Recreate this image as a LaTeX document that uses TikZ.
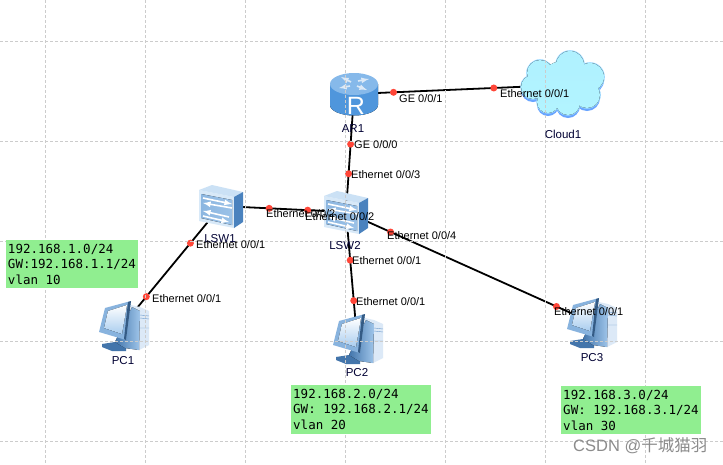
\documentclass[tikz,border=0pt]{standalone}
\usepackage{fontspec}
\setmainfont{Liberation Sans}
\setmonofont{DejaVu Sans Mono}
\newfontfamily\cjkfont{Noto Sans CJK SC}
\definecolor{gridgray}{HTML}{CCCCCC}
\definecolor{dotred}{HTML}{FF4638}
\definecolor{notegreen}{HTML}{90EE90}
\definecolor{iconblue}{HTML}{4A82BE}
\definecolor{iconlight}{HTML}{A9CDEF}
\definecolor{iconpale}{HTML}{DCE9F7}
\definecolor{routerblue}{HTML}{4F96DC}
\definecolor{routertop}{HTML}{86B9EA}
\definecolor{cloudblue}{HTML}{69A5FF}
\definecolor{cloudlight}{HTML}{B2F4FF}
\definecolor{cloudedge}{HTML}{9AD8FF}
\tikzset{
  router/.pic={
    \fill[left color=routerblue, middle color=routertop, right color=routerblue] (-24,-10) -- (-24,11) arc (180:0:24 and 10.5) -- (24,-10) -- cycle;
    \fill[routertop] (0,-10) ellipse (24 and 11);
    \draw[iconpale, line width=1.6pt, -latex] (-3,-12) -- (-13,-17);
    \draw[iconpale, line width=1.6pt, -latex] (-4,-8) -- (-15,-6);
    \draw[iconpale, line width=1.6pt, -latex] (3,-8) -- (13,-4);
    \draw[iconpale, line width=1.6pt, -latex] (4,-13) -- (15,-15);
    \node[text=white, font=\fontsize{25}{25}\selectfont] (-letter) at (2,12) {R};
  },
  switchbox/.pic={
    \fill[iconlight!45!white] (-22,-16) -- (13,-9) -- (13,22) -- (-22,15) -- cycle;
    \fill[left color=iconlight!70!iconblue, right color=iconlight!85!iconblue] (-20,-12) -- (11,-6) -- (11,19) -- (-20,12) -- cycle;
    \fill[iconlight!60!white] (-22,-16) -- (-9,-21) -- (22,-14) -- (13,-9) -- cycle;
    \fill[iconblue] (13,-9) -- (22,-14) -- (22,16) -- (13,22) -- cycle;
    \draw[white, line width=1.6pt, -latex] (-18,-8) -- (11,-2);
    \draw[white, line width=1.6pt, -latex] (11,2) -- (-18,-3);
    \draw[white, line width=1.6pt, -latex] (8,11) -- (-18,5);
    \draw[white, line width=1.6pt, -latex] (-18,10) -- (8,16);
  },
  pcbox/.pic={
    \fill[iconblue!90!black] (-21,19) -- (-8,17) -- (3,23) -- (3,26) -- (-11,26) -- (-21,22) -- cycle;
    \fill[iconpale] (8,-20) -- (17,-18) -- (26,-14) -- (26,20) -- (16,25) -- cycle;
    \fill[left color=iconblue!90!black, right color=iconlight!90!iconblue] (9,-18) -- (17,-14) -- (16,25) -- (2,23) -- (-8,17) -- cycle;
    \fill[iconlight!65!iconblue] (-24,7) -- (-18,-17) -- (8,-24) -- (3,15) -- cycle;
    \fill[top color=white, bottom color=iconlight] (-19,3) -- (-15,-14) -- (4,-20) -- (-1,9) -- cycle;
    \fill[iconblue!70!black] (5,-23) -- (8,-24) -- (3,15) -- (1,14) -- cycle;
    \draw[iconblue!80!white] (17,-10) -- (26,-9) (17,-7) -- (26,-6) (17,3) -- (26,3);
  },
  cloudshape/.pic={
    \fill[cloudblue] (-23,-9) circle (13) (7,-17) circle (14) (27,-5) circle (14)
      (24,13) circle (13) (5,21) circle (12) (-15,20) circle (11) (-30,5) circle (12) (0,3) circle (22);
    \fill[cloudedge] (-23,-12) circle (13.8) (7,-20) circle (14.8) (27,-8) circle (14.8)
      (24,10) circle (13.8) (5,18) circle (12.8) (-15,17) circle (11.8) (-30,2) circle (12.8) (0,0) circle (22);
    \fill[top color=cloudlight!90!cloudedge, bottom color=cloudlight] (-23,-12) circle (13) (7,-20) circle (14) (27,-8) circle (14)
      (24,10) circle (13) (5,18) circle (12) (-15,17) circle (11) (-30,2) circle (12) (0,0) circle (24);
  }
}
\begin{document}
\begin{tikzpicture}[x=1pt, y=-1pt,
  link/.style={black, line width=1.8pt},
  dot/.style={circle, fill=dotred, inner sep=0pt, minimum size=7pt},
  port/.style={anchor=west, inner sep=0pt, font=\fontsize{11}{11}\selectfont},
  devname/.style={inner sep=0pt, text=black!80!blue, font=\fontsize{11.5}{12}\selectfont},
  note/.style={fill=notegreen, anchor=north west, align=left, inner xsep=1.5pt, inner ysep=2pt, font=\ttfamily\fontsize{12.5}{15.5}\selectfont},
  spot/.style={inner sep=0pt}]
  \useasboundingbox (0,0) rectangle (723,464);
  \fill[white] (0,0) rectangle (723,464);

  % Device positions
  \node[spot] (AR1) at (354,94) {};
  \node[spot] (LSW1) at (221,206) {};
  \node[spot] (LSW2) at (346,212) {};
  \node[spot] (Cloud1) at (563,85) {};
  \node[spot] (PC1) at (123,325) {};
  \node[spot] (PC2) at (357,338) {};
  \node[spot] (PC3) at (591,322) {};

  % Links with their port dots
  \draw[link] (AR1) -- node[dot, pos=.187] (d1) {} node[dot, pos=.67] (d2) {} (Cloud1);
  \draw[link] (AR1) -- node[dot, pos=.424] (d3) {} node[dot, pos=.678] (d4) {} (LSW2);
  \draw[link] (LSW1) -- node[dot, pos=.384] (d5) {} node[dot, pos=.696] (d6) {} (LSW2);
  \draw[link] (LSW1) -- node[dot, pos=.31] (d7) {} node[dot, pos=.765] (d8) {} (PC1);
  \draw[link] (LSW2) -- node[dot, pos=.381] (d9) {} node[dot, pos=.706] (d10) {} (PC2);
  \draw[link] (LSW2) -- node[dot, pos=.18] (d11) {} node[dot, pos=.861] (d12) {} (PC3);

  % Icons
  \pic at (AR1) {router};
  \pic at (LSW1) {switchbox};
  \pic at (LSW2) {switchbox};
  \pic at (Cloud1) {cloudshape};
  \pic at (PC1) {pcbox};
  \pic at (PC2) {pcbox};
  \pic at (PC3) {pcbox};

  % Canvas grid
  \foreach \x in {45.5,145.5,...,645.5}
    \draw[gridgray, densely dashed, line width=.7pt] (\x,0) -- (\x,464);
  \foreach \y in {41.5,141.5,...,441.5}
    \draw[gridgray, densely dashed, line width=.7pt] (0,\y) -- (723,\y);

  % Device names
  \node[devname] (nameAR1) at (353,129) {AR1};
  \node[devname] (nameLSW1) at (220,239) {LSW1};
  \node[devname] (nameLSW2) at (345,246) {LSW2};
  \node[devname] (nameCloud1) at (563,134) {Cloud1};
  \node[devname] (namePC1) at (123,361) {PC1};
  \node[devname] (namePC2) at (357,373) {PC2};
  \node[devname] (namePC3) at (592,358) {PC3};

  % Port labels
  \node[port] (p1) at (399,99) {GE 0/0/1};
  \node[port] (p2) at (500,94) {Ethernet 0/0/1};
  \node[port] (p3) at (354,145) {GE 0/0/0};
  \node[port] (p4) at (351,175) {Ethernet 0/0/3};
  \node[port] (p5) at (266,214) {Ethernet 0/0/2};
  \node[port] (p6) at (305,217) {Ethernet 0/0/2};
  \node[port] (p7) at (387,236) {Ethernet 0/0/4};
  \node[port] (p8) at (196,245) {Ethernet 0/0/1};
  \node[port] (p9) at (352,261) {Ethernet 0/0/1};
  \node[port] (p10) at (152,299) {Ethernet 0/0/1};
  \node[port] (p11) at (356,302) {Ethernet 0/0/1};
  \node[port] (p12) at (554,312) {Ethernet 0/0/1};

  % Subnet notes
  \node[note, minimum width=132.5pt, minimum height=48.5pt] (note1) at (5.5,239.5) {192.168.1.0/24\\GW:192.168.1.1/24\\vlan 10};
  \node[note, minimum width=140.5pt, minimum height=49pt] (note2) at (290.5,384.5) {192.168.2.0/24\\GW: 192.168.2.1/24\\vlan 20};
  \node[note, minimum width=140.5pt, minimum height=48.5pt] (note3) at (560.5,385.5) {192.168.3.0/24\\GW: 192.168.3.1/24\\vlan 30};

  % Watermark
  \node[inner sep=0pt, anchor=west, text=black!45, font=\fontsize{16.5}{16.5}\selectfont] (mark) at (573,446) {CSDN @{\cjkfont 千城猫羽}};
\end{tikzpicture}
\end{document}
